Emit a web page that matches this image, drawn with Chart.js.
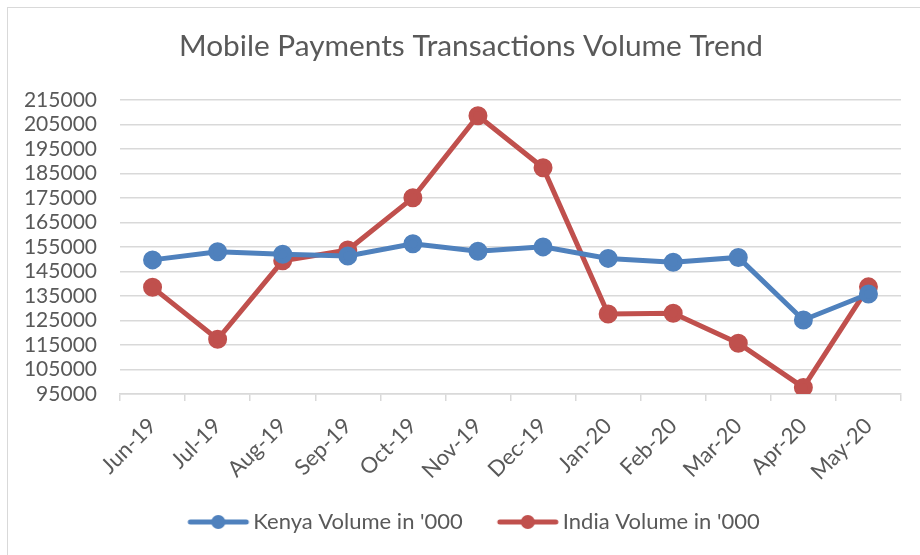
<!DOCTYPE html>
<html>
<head>
<meta charset="utf-8">
<script src="https://cdn.jsdelivr.net/npm/chart.js@4"></script>
<style>
  html, body { margin: 0; padding: 0; background: #fff; overflow: hidden; }
  #wrap { position: relative; width: 920px; height: 555px; }
  #frame { position: absolute; left: 7px; top: 7px; width: 1000px; height: 1000px;
           border: 1.5px solid #d9d9d9; pointer-events: none; }
  canvas { position: absolute; left: 0; top: 0; }
</style>
</head>
<body>
<div id="wrap">
  <canvas id="linechart1" width="920" height="555"></canvas>
  <div id="frame"></div>
</div>
<script>
// data
const months = ['Jun-19', 'Jul-19', 'Aug-19', 'Sep-19', 'Oct-19', 'Nov-19',
                'Dec-19', 'Jan-20', 'Feb-20', 'Mar-20', 'Apr-20', 'May-20'];
const kenyaVolume = [149700, 153000, 152000, 151300, 156300, 153200,
                     155000, 150300, 148700, 150700, 125200, 135800];
const indiaVolume = [138500, 117300, 149300, 153700, 175000, 208500,
                     187300, 127600, 127900, 115700, 97700, 138700];
const yMin = 95000;
const yMax = 215000;
const yStep = 10000;

const blue = '#4f81bd';
const red = '#c0504d';
const grey = '#595959';

// legend marker: short line with a dot, like the spreadsheet legend.
// The canvas is wider than the legend box (60px) so the line can run
// close to the text; the left part is blank to space the two items.
function legendMarker(color) {
  const c = document.createElement('canvas');
  c.width = 80;
  c.height = 16;
  const ctx = c.getContext('2d');
  ctx.strokeStyle = color;
  ctx.lineWidth = 5;
  ctx.lineCap = 'round';
  ctx.beginPath();
  ctx.moveTo(18, 8);
  ctx.lineTo(74, 8);
  ctx.stroke();
  ctx.fillStyle = color;
  ctx.beginPath();
  ctx.arc(46, 8, 7, 0, Math.PI * 2);
  ctx.fill();
  return c;
}

const data = {
  labels: months,
  datasets: [{
    label: "Kenya Volume in '000",
    data: kenyaVolume,
    borderColor: blue,
    backgroundColor: blue,
    borderWidth: 5,
    pointRadius: 7,
    pointHoverRadius: 7
  }, {
    label: "India Volume in '000",
    data: indiaVolume,
    borderColor: red,
    backgroundColor: red,
    borderWidth: 5,
    pointRadius: 7,
    pointHoverRadius: 7
  }]
};

Chart.defaults.font.family = 'Lato, "Open Sans", sans-serif';
Chart.defaults.color = grey;

new Chart(document.getElementById('linechart1'), {
  type: 'line',
  data: data,
  options: {
    responsive: false,
    animation: false,
    elements: { point: { pointStyle: 'circle' }, line: { tension: 0 } },
    // left padding shifts the centre of title and legend like the original
    layout: { padding: { left: 22, right: 0, top: 0, bottom: 12 } },
    plugins: {
      title: {
        display: true,
        text: 'Mobile Payments Transactions Volume Trend',
        color: grey,
        font: { size: 29.8, weight: 'normal' },
        padding: { top: 29, bottom: 35 }
      },
      legend: {
        position: 'bottom',
        labels: {
          usePointStyle: true,
          pointStyleWidth: 60,
          boxHeight: 16,
          padding: 29,
          color: grey,
          font: { size: 22 },
          generateLabels: chart => chart.data.datasets.map((ds, i) => ({
            text: ds.label,
            pointStyle: legendMarker(ds.borderColor),
            fillStyle: ds.borderColor,
            strokeStyle: ds.borderColor,
            lineWidth: 0,
            fontColor: grey,
            datasetIndex: i
          }))
        }
      },
      tooltip: { enabled: false }
    },
    scales: {
      x: {
        offset: true,
        grid: {
          offset: true,
          drawOnChartArea: false,
          drawTicks: true,
          tickLength: 7,
          color: '#d9d9d9',
          lineWidth: 1.5
        },
        border: { display: true, color: '#d9d9d9', width: 1.5 },
        ticks: {
          maxRotation: 45,
          minRotation: 45,
          padding: 12,
          color: grey,
          font: { size: 22 }
        },
        afterFit: scale => { scale.height = 88; }
      },
      y: {
        min: yMin,
        max: yMax,
        grid: { color: '#d9d9d9', lineWidth: 1.5, drawTicks: false },
        border: { display: false },
        ticks: {
          stepSize: yStep,
          autoSkip: false,
          padding: 23,
          color: grey,
          font: { size: 21 },
          callback: v => String(v)
        },
        afterFit: scale => { scale.width = 98; }
      },
      // empty axis that only keeps the right margin of the plot
      yRight: {
        position: 'right',
        display: true,
        grid: { display: false },
        border: { display: false },
        ticks: { display: false },
        afterFit: scale => { scale.width = 19; }
      }
    }
  }
});
</script>
</body>
</html>
